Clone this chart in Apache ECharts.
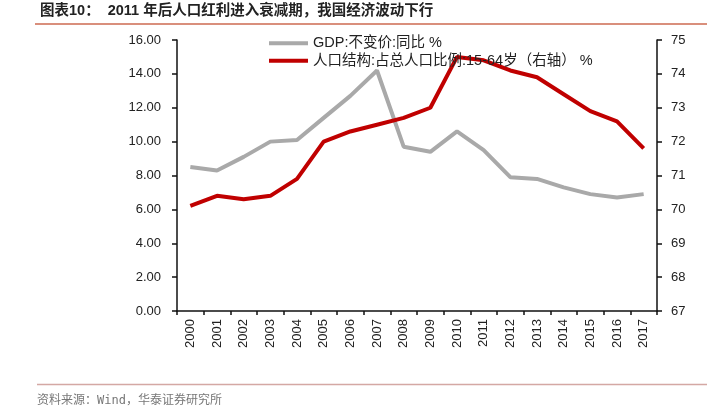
<!DOCTYPE html>
<html><head><meta charset="utf-8">
<script src="https://cdn.jsdelivr.net/npm/echarts@6/dist/echarts.min.js"></script>
<style>html,body{margin:0;padding:0;background:#fff}#c{width:727px;height:418px}</style>
</head><body><div id="c"></div>
<script>
var years = ['2000','2001','2002','2003','2004','2005','2006','2007','2008','2009','2010','2011','2012','2013','2014','2015','2016','2017'];
var gdp = [8.5,8.3,9.1,10.0,10.1,11.4,12.7,14.2,9.7,9.4,10.6,9.5,7.9,7.8,7.3,6.9,6.7,6.9];
var pop = [70.1,70.4,70.3,70.4,70.9,72.0,72.3,72.5,72.7,73.0,74.5,74.4,74.1,73.9,73.4,72.9,72.6,71.8];
var leftTicks = {min:0,max:16,interval:2};
var rightTicks = {min:67,max:75,interval:1};
var nameGdp = 'GDP:不变价:同比 %';
var namePop = '人口结构:占总人口比例:15-64岁（右轴） %';
var FONT = "'Liberation Sans','Noto Sans CJK SC',sans-serif";
var chart = echarts.init(document.getElementById('c'));
chart.setOption({
  animation:false,
  textStyle:{fontFamily:FONT},
  grid:{left:177,right:70,top:40,bottom:107},
  legend:{orient:'vertical',left:264,top:31,itemWidth:39,itemHeight:4,itemGap:3,
    textStyle:{fontSize:14.5,color:'#222',fontFamily:FONT},
    data:[{name:nameGdp,icon:'rect'},{name:namePop,icon:'rect'}]},
  xAxis:{type:'category',data:years,boundaryGap:true,
    axisLine:{lineStyle:{color:'#111',width:1.5}},
    axisTick:{show:true,length:4,lineStyle:{color:'#111',width:1.5}},
    axisLabel:{rotate:90,fontSize:13,color:'#222',margin:8,interval:0}},
  yAxis:[
    {type:'value',min:leftTicks.min,max:leftTicks.max,interval:leftTicks.interval,position:'left',
     axisLine:{show:true,lineStyle:{color:'#111',width:1.5}},
     axisTick:{show:true,inside:false,length:5,lineStyle:{color:'#111',width:1.5}},
     splitLine:{show:false},
     axisLabel:{fontSize:13,color:'#222',margin:16,formatter:function(v){return v.toFixed(2);}}},
    {type:'value',min:rightTicks.min,max:rightTicks.max,interval:rightTicks.interval,position:'right',
     axisLine:{show:true,lineStyle:{color:'#111',width:1.5}},
     axisTick:{show:true,inside:false,length:5,lineStyle:{color:'#111',width:1.5}},
     splitLine:{show:false},
     axisLabel:{fontSize:13,color:'#222',margin:14}}
  ],
  series:[
    {name:nameGdp,type:'line',data:gdp,yAxisIndex:0,symbol:'none',
     lineStyle:{color:'#A9A9A9',width:4},itemStyle:{color:'#A9A9A9'}},
    {name:namePop,type:'line',data:pop,yAxisIndex:1,symbol:'none',
     lineStyle:{color:'#C00000',width:4},itemStyle:{color:'#C00000'}}
  ],
  graphic:[
    {type:'text',left:40,top:4,style:{text:'图表10：  2011 年后人口红利进入衰减期，我国经济波动下行',font:"bold 14.5px "+FONT,fill:'#222'}},
    {type:'line',shape:{x1:35,y1:24,x2:707,y2:24},style:{stroke:'#CD6A50',lineWidth:1.5}},
    {type:'line',shape:{x1:37,y1:384.5,x2:707,y2:384.5},style:{stroke:'#D4A8A4',lineWidth:1.5}},
    {type:'text',left:37,top:395,style:{text:'资料来源：Wind，华泰证券研究所',font:"12px 'DejaVu Sans Mono','Noto Sans CJK SC',monospace",fill:'#777'}}
  ]
});
</script></body></html>
